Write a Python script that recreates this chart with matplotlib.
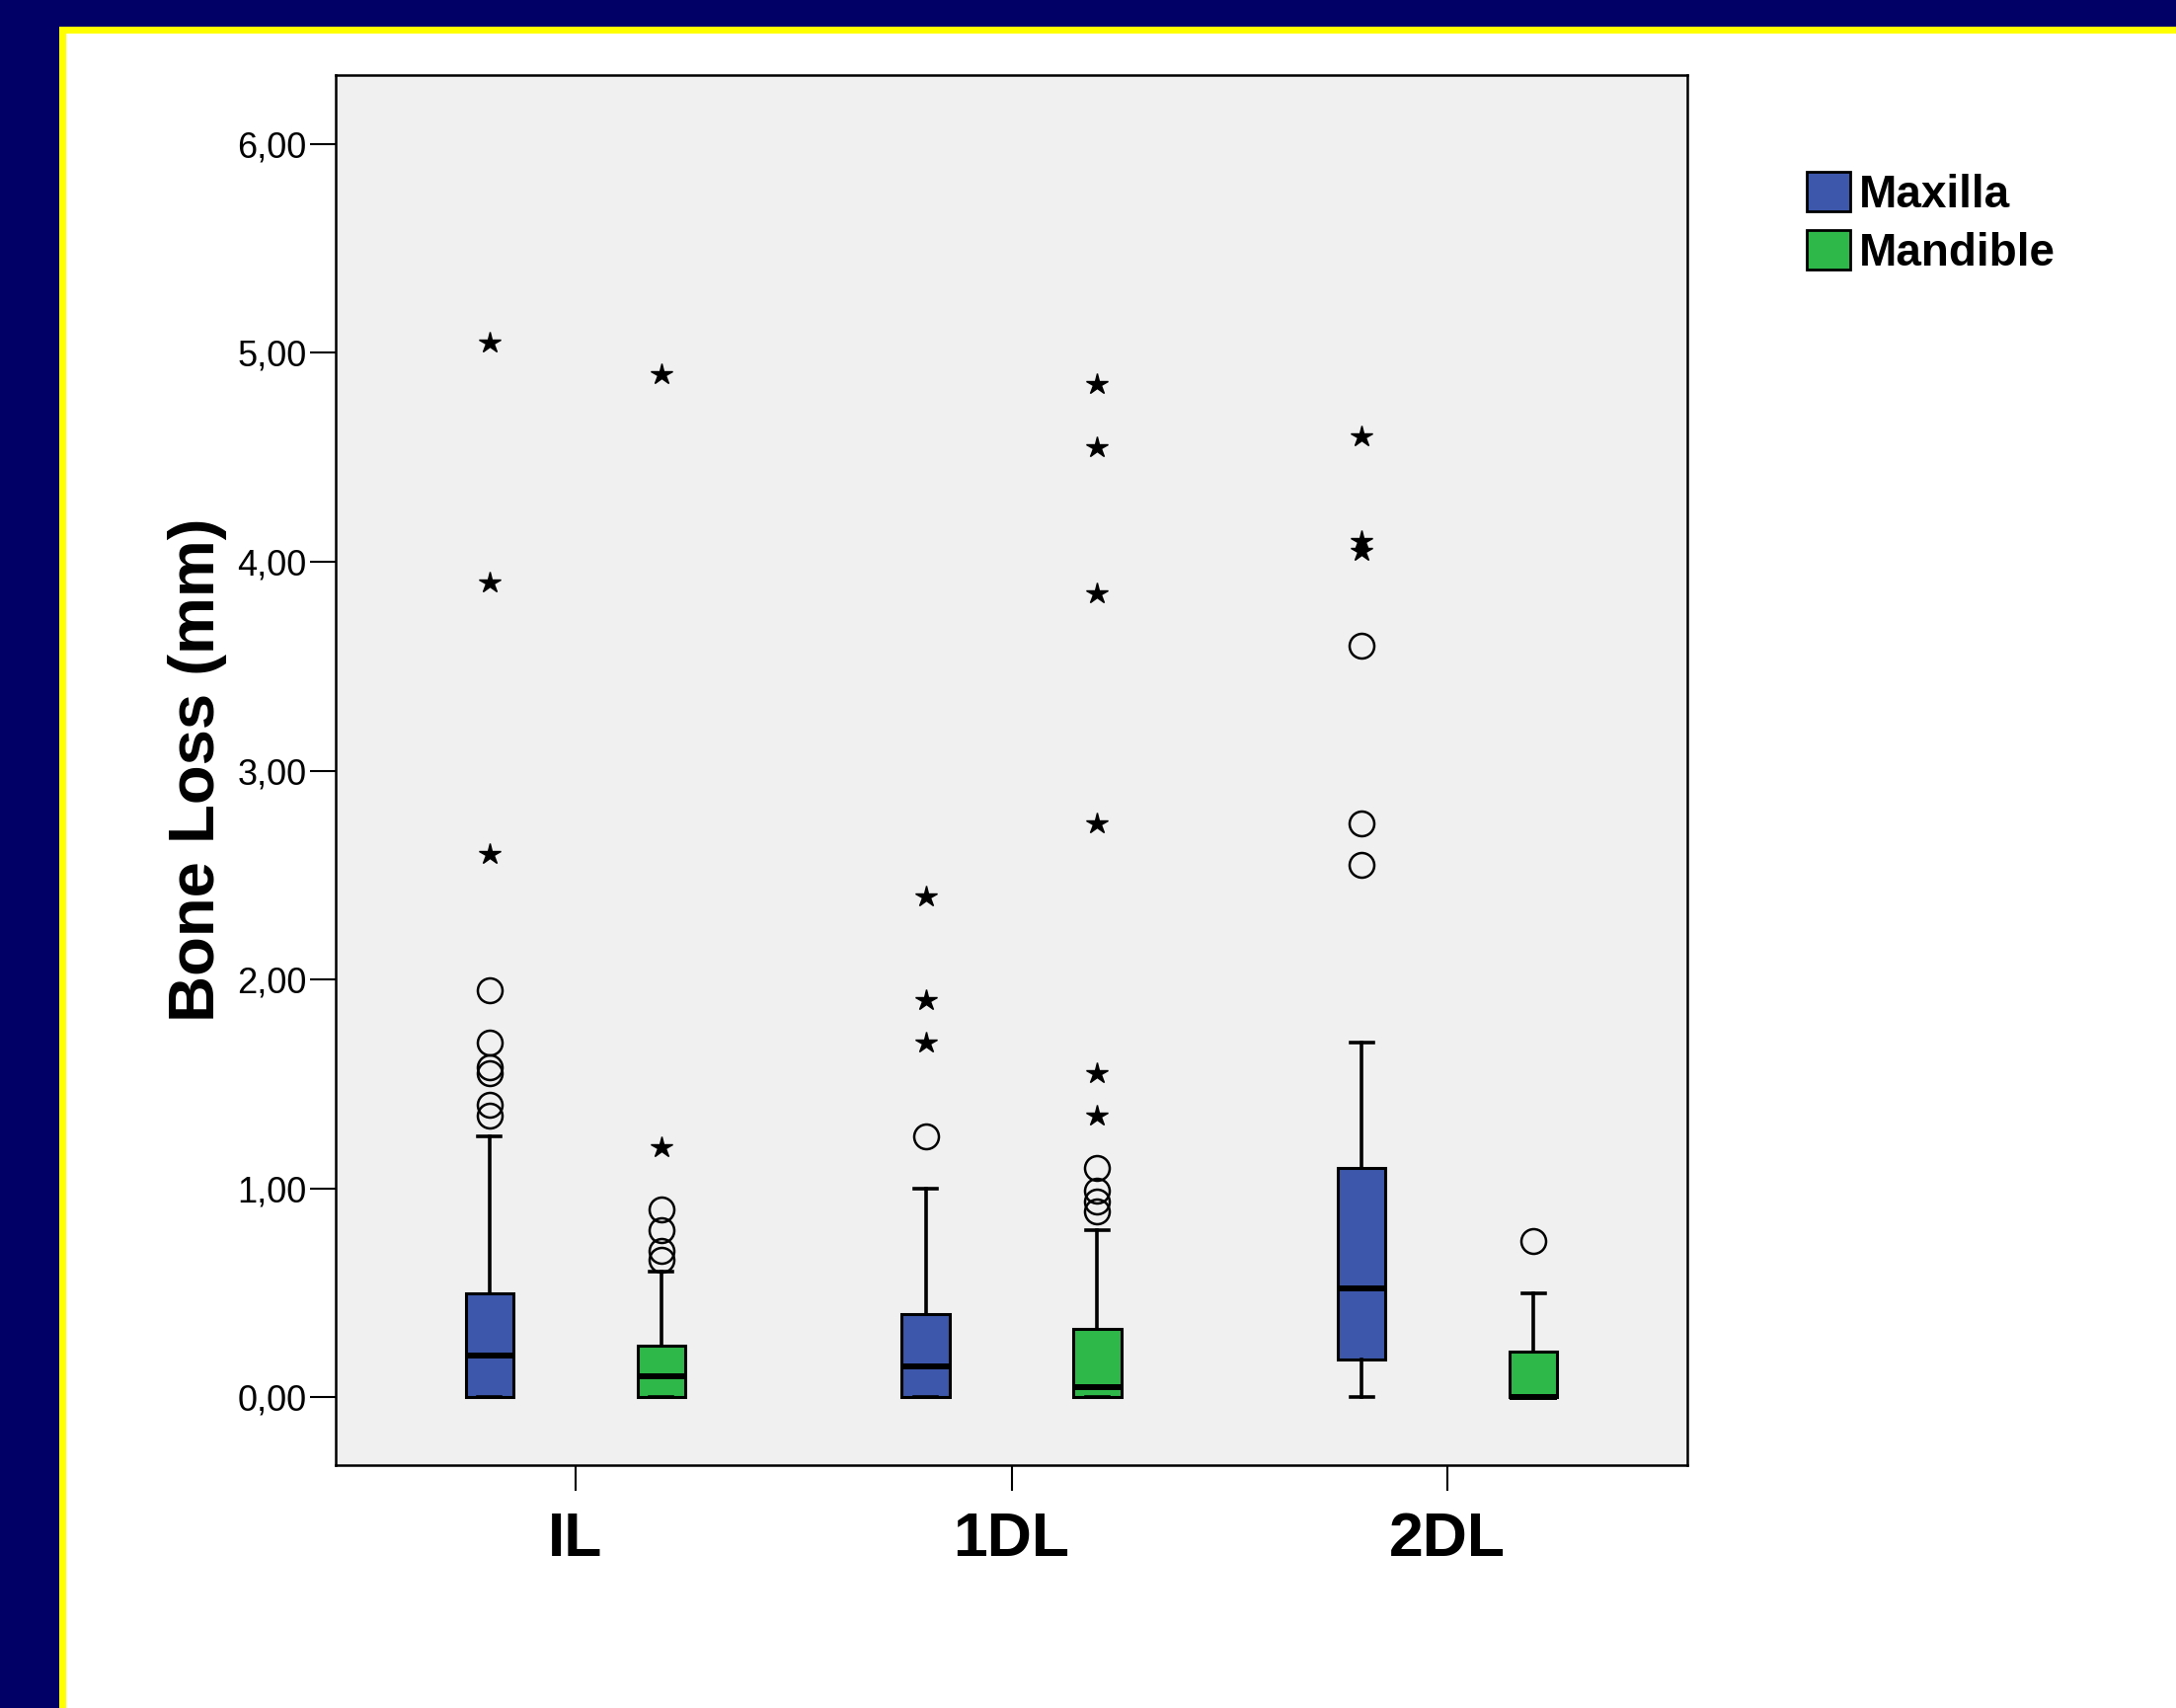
import matplotlib
matplotlib.use('Agg')
import matplotlib.pyplot as plt
from matplotlib.patches import Rectangle, Patch
import numpy as np

plt.rcParams['font.family'] = ['Liberation Sans', 'DejaVu Sans']

# data
groups = ['IL', '1DL', '2DL']
series_names = ['Maxilla', 'Mandible']
series_colors = ['#3D58AA', '#2EB84A']

maxilla_q1 = [0.0, 0.0, 0.18]
maxilla_med = [0.20, 0.15, 0.52]
maxilla_q3 = [0.50, 0.40, 1.10]
maxilla_whislo = [0.0, 0.0, 0.0]
maxilla_whishi = [1.25, 1.00, 1.70]
maxilla_circles = [[1.35, 1.40, 1.55, 1.58, 1.70, 1.95], [1.25], [2.55, 2.75, 3.60]]
maxilla_stars = [[2.60, 3.90, 5.05], [1.70, 1.90, 2.40], [4.05, 4.10, 4.60]]

mandible_q1 = [0.0, 0.0, 0.0]
mandible_med = [0.10, 0.05, 0.0]
mandible_q3 = [0.25, 0.33, 0.22]
mandible_whislo = [0.0, 0.0, 0.0]
mandible_whishi = [0.60, 0.80, 0.50]
mandible_circles = [[0.66, 0.70, 0.80, 0.90], [0.89, 0.94, 0.99, 1.10], [0.75]]
mandible_stars = [[1.20, 4.90], [1.35, 1.55, 2.75, 3.85, 4.55, 4.85], []]

y_ticks = [0, 1, 2, 3, 4, 5, 6]
y_tick_labels = ['0,00', '1,00', '2,00', '3,00', '4,00', '5,00', '6,00']


def make_stats(q1, med, q3, lo, hi, circles):
    stats = []
    for i in range(len(q1)):
        stats.append(dict(q1=q1[i], med=med[i], q3=q3[i], whislo=lo[i],
                          whishi=hi[i], fliers=np.array(circles[i])))
    return stats


W, H = 2204, 1730
fig = plt.figure(figsize=(W / 100, H / 100), dpi=100)
fig.patch.set_facecolor('#000066')

# slide frame: yellow edge + white panel
fig.add_artist(Rectangle((60 / W, 0), 1, 1 - 27 / H, transform=fig.transFigure,
                         facecolor='#FFFF00', edgecolor='none', zorder=-2))
fig.add_artist(Rectangle((67 / W, 0), 1, 1 - 34 / H, transform=fig.transFigure,
                         facecolor='white', edgecolor='none', zorder=-1))

ax = fig.add_axes([340 / W, 1 - 1484 / H, 1369 / W, (1484 - 76) / H])
ax.set_facecolor('#F0F0F0')

x = np.arange(len(groups))
offset = 0.197
box_w = 0.109

all_series = [
    (make_stats(maxilla_q1, maxilla_med, maxilla_q3, maxilla_whislo, maxilla_whishi, maxilla_circles),
     maxilla_stars, -offset, series_colors[0]),
    (make_stats(mandible_q1, mandible_med, mandible_q3, mandible_whislo, mandible_whishi, mandible_circles),
     mandible_stars, offset, series_colors[1]),
]

for stats, stars, off, color in all_series:
    ax.bxp(stats, positions=x + off, widths=box_w, patch_artist=True,
           capwidths=0.052, manage_ticks=False,
           boxprops=dict(facecolor=color, edgecolor='black', linewidth=2.2),
           medianprops=dict(color='black', linewidth=4.3),
           whiskerprops=dict(color='black', linewidth=2.6),
           capprops=dict(color='black', linewidth=2.6),
           flierprops=dict(marker='o', markersize=18, markerfacecolor='none',
                           markeredgecolor='black', markeredgewidth=1.8))
    for i, vals in enumerate(stars):
        if len(vals) == 0:
            continue
        ax.plot(np.full(len(vals), x[i] + off), vals, linestyle='none',
                marker='*', markersize=16, color='black')

ax.set_xlim(-0.55, 2.55)
ax.set_ylim(-0.324, 6.33)

ax.set_xticks(x)
ax.set_xticklabels(groups, fontsize=45, fontweight='bold')
ax.set_yticks(y_ticks)
ax.set_yticklabels(y_tick_labels, fontsize=26)
ax.tick_params(axis='y', length=19, width=1.5, pad=2)
ax.tick_params(axis='x', length=19, width=1.5, pad=14)
for s in ax.spines.values():
    s.set_linewidth(1.8)
    s.set_color('black')

ax.set_ylabel('Bone Loss (mm)', fontsize=47, fontweight='bold')
ax.yaxis.set_label_coords(-0.08, 0.5)

handles = [Patch(facecolor=c, edgecolor='black', linewidth=2, label=n)
           for n, c in zip(series_names, series_colors)]
fig.legend(handles=handles, loc='upper left', bbox_to_anchor=(1830 / W, 1 - 174 / H),
           frameon=False, prop={'size': 33, 'weight': 'bold'},
           handlelength=0.95, handleheight=0.95, handletextpad=0.2,
           labelspacing=0.3, borderpad=0, borderaxespad=0)

fig.savefig('out.png', dpi=100, facecolor=fig.get_facecolor())
